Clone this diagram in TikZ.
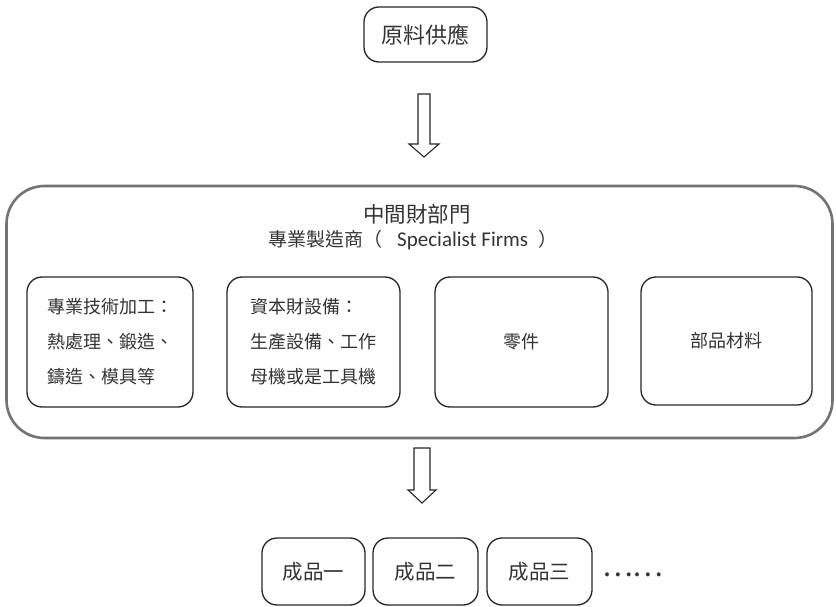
\documentclass[tikz,border=0pt]{standalone}
\usepackage{fontspec}
\newfontfamily\cjk{Noto Sans CJK TC}
\newfontfamily\lat{Carlito}
\tikzset{
  box/.style={draw=black!85, line width=1.3pt, rounded corners=15pt, text=black!80,
    font=\cjk\fontsize{18}{35}\selectfont, align=left, inner sep=0pt},
  bigbox/.style={draw=black!55, line width=2.6pt, rounded corners=38pt, inner sep=0pt},
  label/.style={text=black!80, inner sep=0pt},
  blockarrow/.style={draw=black!85, line width=1.1pt, fill=white, line join=miter},
}
\begin{document}
\begin{tikzpicture}[x=1pt,y=-1pt]
\useasboundingbox (0,0) rectangle (836,607);
% top box
\node[box, minimum width=123pt, minimum height=55pt, font=\cjk\fontsize{22}{26}\selectfont] (src) at (425.5,34.5) {原料供應};
% arrow 1
\coordinate (a1) at (424,94);
\draw[blockarrow] ([xshift=-6pt]a1) -- ++(0,50) -- ++(-9,0) -- (424,157) -- (439,144) -- ++(-9,0) -- ([xshift=6pt]a1) -- cycle;
% big box
\node[bigbox, minimum width=826pt, minimum height=252pt] (mid) at (419.5,312) {};
\node[label, anchor=west, font=\cjk\fontsize{21.5}{26}\selectfont] (t1) at (363,214) {中間財部門};
\node[label, anchor=west, font=\cjk\fontsize{19}{22}\selectfont] (t2) at (268,240) {專業製造商（\hspace{15pt}{\lat\fontsize{21}{22}\selectfont Specialist Firms}\hspace{10pt}）};
% inner boxes
\node[box, minimum width=166pt, minimum height=130pt] (b1) at (110,342) {專業技術加工：\\熱處理、鍛造、\\鑄造、模具等};
\node[box, minimum width=173pt, minimum height=130pt] (b2) at (313.5,342) {資本財設備：\\生產設備、工作\\母機或是工具機};
\node[box, minimum width=173pt, minimum height=130pt] (b3) at (521.5,342) {零件};
\node[box, minimum width=171pt, minimum height=128pt] (b4) at (726.5,341) {部品材料};
% arrow 2
\coordinate (a2) at (422,448);
\draw[blockarrow] ([xshift=-8pt]a2) -- ++(0,42) -- ++(-6,0) -- (422,503) -- (436,490) -- ++(-6,0) -- ([xshift=8pt]a2) -- cycle;
% products
\node[box, minimum width=103pt, minimum height=67pt, font=\cjk\fontsize{20.5}{24}\selectfont] (p1) at (313.5,571.5) {成品一};
\node[box, minimum width=105pt, minimum height=67pt, font=\cjk\fontsize{20.5}{24}\selectfont] (p2) at (425.5,571.5) {成品二};
\node[box, minimum width=105pt, minimum height=67pt, font=\cjk\fontsize{20.5}{24}\selectfont] (p3) at (539.5,571.5) {成品三};
\node[label, anchor=west, font=\cjk\fontsize{29}{33}\selectfont] (dots) at (602,575) {……};
\end{tikzpicture}
\end{document}
